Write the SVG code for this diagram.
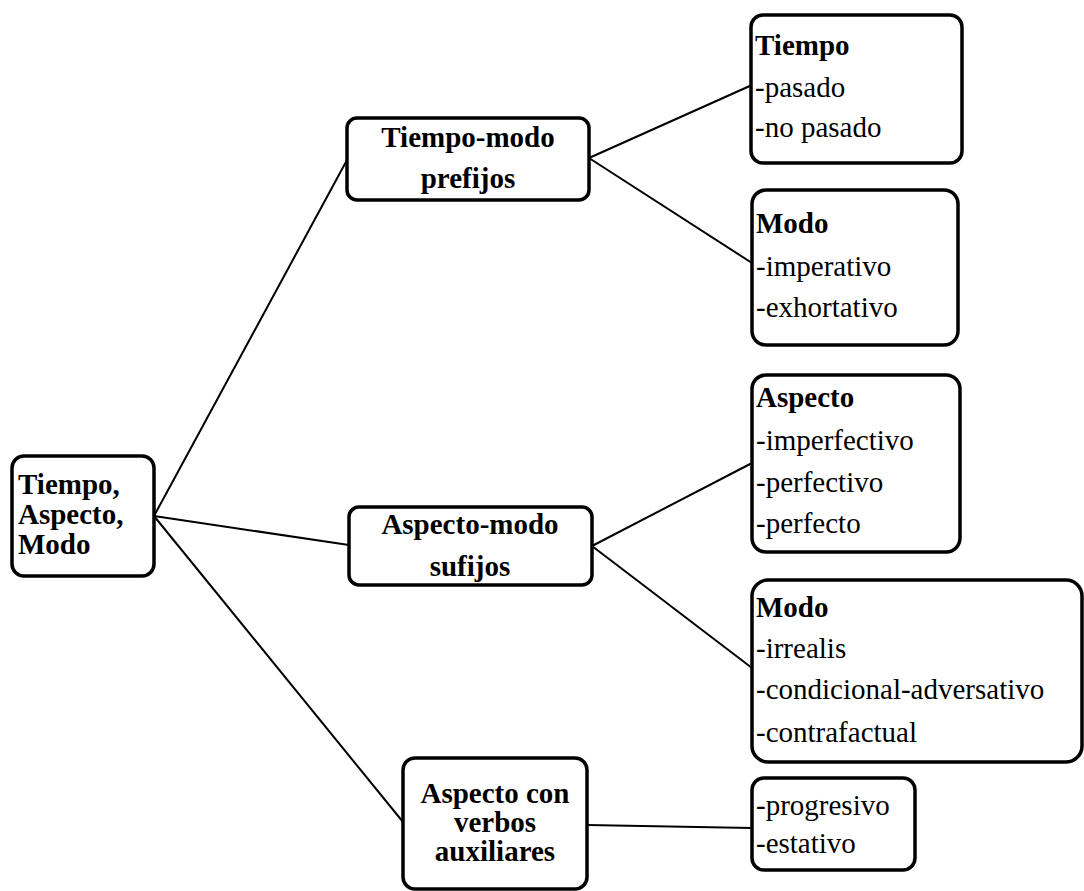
<svg xmlns="http://www.w3.org/2000/svg" width="1084" height="891" viewBox="0 0 1084 891">
<style>
.box{fill:#fff;stroke:#000;stroke-width:3.5}
.t{font-family:"Liberation Serif","Times New Roman",serif;font-size:29px;fill:#000}
.b{font-weight:bold}
.m{text-anchor:middle}
.c line{stroke:#000;stroke-width:2}
</style>
<rect width="1084" height="891" fill="#fff"/>
<g class="c" id="connectors">
<line x1="154" y1="516" x2="347" y2="160"/>
<line x1="154" y1="516" x2="349" y2="545"/>
<line x1="154" y1="516" x2="403" y2="822"/>
<line x1="589" y1="158" x2="752" y2="85"/>
<line x1="589" y1="158" x2="752" y2="263"/>
<line x1="592" y1="546" x2="752" y2="463"/>
<line x1="592" y1="546" x2="752" y2="668"/>
<line x1="587" y1="825" x2="752" y2="828"/>
</g>
<g id="root">
<rect class="box" x="12" y="456" width="142" height="120" rx="12"/>
<text class="t b" x="18" y="494">Tiempo,</text>
<text class="t b" x="18" y="524">Aspecto,</text>
<text class="t b" x="18" y="554">Modo</text>
</g>
<g id="tm">
<rect class="box" x="347" y="118" width="242" height="82" rx="10"/>
<text class="t b m" x="468" y="147">Tiempo-modo</text>
<text class="t b m" x="468" y="188">prefijos</text>
</g>
<g id="am">
<rect class="box" x="349" y="507" width="243" height="78" rx="10"/>
<text class="t b m" x="470" y="534">Aspecto-modo</text>
<text class="t b m" x="470" y="576">sufijos</text>
</g>
<g id="aux">
<rect class="box" x="403" y="758" width="184" height="131" rx="12"/>
<text class="t b m" x="495" y="803">Aspecto con</text>
<text class="t b m" x="495" y="832">verbos</text>
<text class="t b m" x="495" y="861">auxiliares</text>
</g>
<g id="tiempo">
<rect class="box" x="751" y="15" width="211" height="148" rx="12"/>
<text class="t b" x="755" y="55">Tiempo</text>
<text class="t" x="755" y="97">-pasado</text>
<text class="t" x="755" y="137">-no pasado</text>
</g>
<g id="modo1">
<rect class="box" x="752" y="190" width="206" height="155" rx="14"/>
<text class="t b" x="756" y="233">Modo</text>
<text class="t" x="756" y="276">-imperativo</text>
<text class="t" x="756" y="317">-exhortativo</text>
</g>
<g id="aspecto">
<rect class="box" x="752" y="375" width="208" height="177" rx="14"/>
<text class="t b" x="756" y="407">Aspecto</text>
<text class="t" x="756" y="450">-imperfectivo</text>
<text class="t" x="756" y="492">-perfectivo</text>
<text class="t" x="756" y="533">-perfecto</text>
</g>
<g id="modo2">
<rect class="box" x="752" y="580" width="330" height="182" rx="16"/>
<text class="t b" x="756" y="617">Modo</text>
<text class="t" x="756" y="658">-irrealis</text>
<text class="t" x="756" y="699">-condicional-adversativo</text>
<text class="t" x="756" y="742">-contrafactual</text>
</g>
<g id="prog">
<rect class="box" x="752" y="778" width="163" height="92" rx="12"/>
<text class="t" x="756" y="815">-progresivo</text>
<text class="t" x="756" y="853">-estativo</text>
</g>
</svg>
